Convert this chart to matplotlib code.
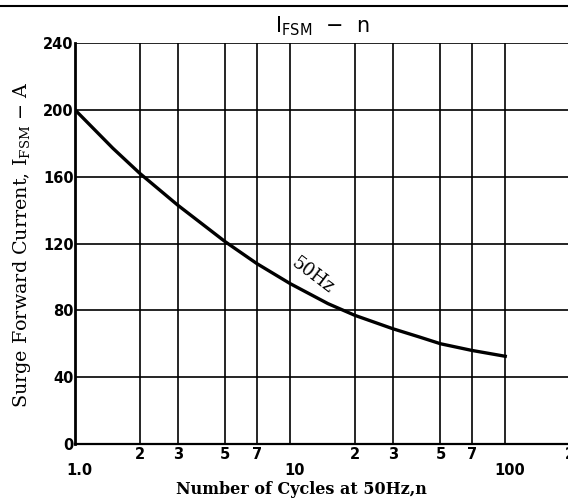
import matplotlib.pyplot as plt
from matplotlib.lines import Line2D
import matplotlib.transforms as mtransforms

# data
n_cycles = [1, 1.5, 2, 3, 5, 7, 10, 15, 20, 30, 40, 50, 70, 100]
i_fsm = [200, 177, 162, 143, 121, 108, 96, 84, 77, 69, 64, 60, 56, 52.5]

y_ticks = [0, 40, 80, 120, 160, 200, 240]
x_major = [1, 10, 100]
x_major_labels = ["1.0", "10", "100"]
x_minor = [2, 3, 5, 7, 20, 30, 50, 70, 200]
x_minor_labels = ["2", "3", "5", "7", "2", "3", "5", "7", "2"]

plt.rcParams['mathtext.fontset'] = 'custom'
plt.rcParams['mathtext.rm'] = 'DejaVu Serif'
plt.rcParams['mathtext.sf'] = 'DejaVu Sans'

tick_font = 'DejaVu Sans'

fig = plt.figure(figsize=(5.68, 5.04), dpi=100)
ax = fig.add_axes([75 / 568, 60 / 504, 495 / 568, 401 / 504])

ax.plot(n_cycles, i_fsm, color='black', lw=2.4, solid_joinstyle='round')

ax.set_xscale('log')
ax.set_xlim(1, 200)
ax.set_ylim(0, 240)

ax.set_yticks(y_ticks)
ax.set_yticklabels([str(v) for v in y_ticks], family=tick_font, weight='bold', fontsize=10.5)
ax.set_xticks(x_major)
ax.set_xticklabels(x_major_labels, family=tick_font, weight='bold', fontsize=10.5)
ax.set_xticks(x_minor, minor=True)
ax.set_xticklabels(x_minor_labels, minor=True, family=tick_font, weight='bold', fontsize=10.5)

ax.tick_params(axis='both', which='both', length=0)
ax.tick_params(axis='y', pad=1)
ax.tick_params(axis='x', which='minor', pad=2)
ax.tick_params(axis='x', which='major', pad=14)

# majors sit a little to the right of their gridline
shift = mtransforms.ScaledTranslation(4 / 100, 0, fig.dpi_scale_trans)
for lab in ax.get_xticklabels():
    lab.set_transform(lab.get_transform() + shift)

ax.grid(True, which='both', color='black', lw=1.2)
ax.set_axisbelow(False)

for s in ['top', 'right']:
    ax.spines[s].set_visible(False)
ax.spines['left'].set_linewidth(2.0)
ax.spines['bottom'].set_linewidth(1.6)

ax.text(12.7, 101, "50Hz", family='DejaVu Serif', fontsize=13,
        rotation=-37, ha='center', va='center', rotation_mode='anchor')

fig.text(322 / 568, 1 - 26 / 504, r"$\mathsf{I_{FSM}}$  −  n", family='DejaVu Sans',
         fontsize=15, ha='center', va='center')
fig.text(22 / 568, 1 - 245 / 504, r"Surge Forward Current, I$_{\rm FSM}$ − A",
         family='DejaVu Serif', fontsize=13.8, rotation=90, ha='center', va='center')
fig.text(301 / 568, 1 - 490 / 504, "Number of Cycles at 50Hz,n", family='DejaVu Serif',
         weight='bold', fontsize=11.5, ha='center', va='center')

fig.add_artist(Line2D([0, 1], [1 - 6 / 504] * 2, transform=fig.transFigure,
                      color='black', lw=1.5))

fig.savefig('out.png', dpi=100)
